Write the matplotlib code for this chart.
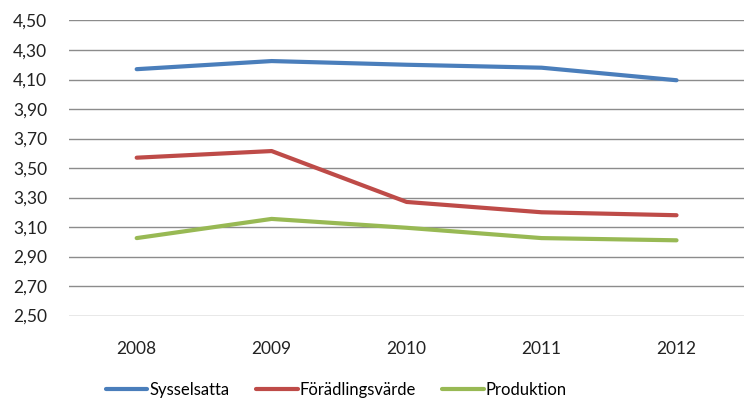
import matplotlib.pyplot as plt
from matplotlib.ticker import FuncFormatter
import numpy as np

years = ['2008', '2009', '2010', '2011', '2012']
sysselsatta = [4.17, 4.225, 4.20, 4.18, 4.095]
foradling = [3.57, 3.615, 3.27, 3.20, 3.18]
produktion = [3.025, 3.155, 3.095, 3.025, 3.01]

plt.rcParams['font.family'] = ['Lato', 'DejaVu Sans']

fig = plt.figure(figsize=(7.44, 4.01), dpi=100)
ax = fig.add_axes([0.093, 0.212, 0.907, 0.738])

x = np.arange(len(years))
ax.plot(x, sysselsatta, color='#4A7EBB', lw=3, label='Sysselsatta', solid_capstyle='round')
ax.plot(x, foradling, color='#BE4B48', lw=3, label='Förädlingsvärde', solid_capstyle='round')
ax.plot(x, produktion, color='#98B954', lw=3, label='Produktion', solid_capstyle='round')

ax.set_xlim(-0.5, 4.5)
ax.set_ylim(2.497, 4.503)
ax.set_yticks(np.arange(2.5, 4.51, 0.2))
ax.yaxis.set_major_formatter(FuncFormatter(lambda v, p: ('%.2f' % v).replace('.', ',')))
ax.set_xticks(x)
ax.set_xticklabels(years)
ax.grid(axis='y', color='#8c8c8c', lw=1)
ax.set_axisbelow(True)
for s in ax.spines.values():
    s.set_visible(False)
ax.tick_params(axis='both', length=0, labelsize=12.5, colors='#222222')
ax.tick_params(axis='y', pad=16)
ax.tick_params(axis='x', pad=18)

fig.legend(loc='center', bbox_to_anchor=(0.452, 0.027), ncol=3, frameon=False,
           fontsize=12, handlelength=2.5, columnspacing=1.6, handletextpad=0.1)

fig.savefig('out.png', dpi=100)
